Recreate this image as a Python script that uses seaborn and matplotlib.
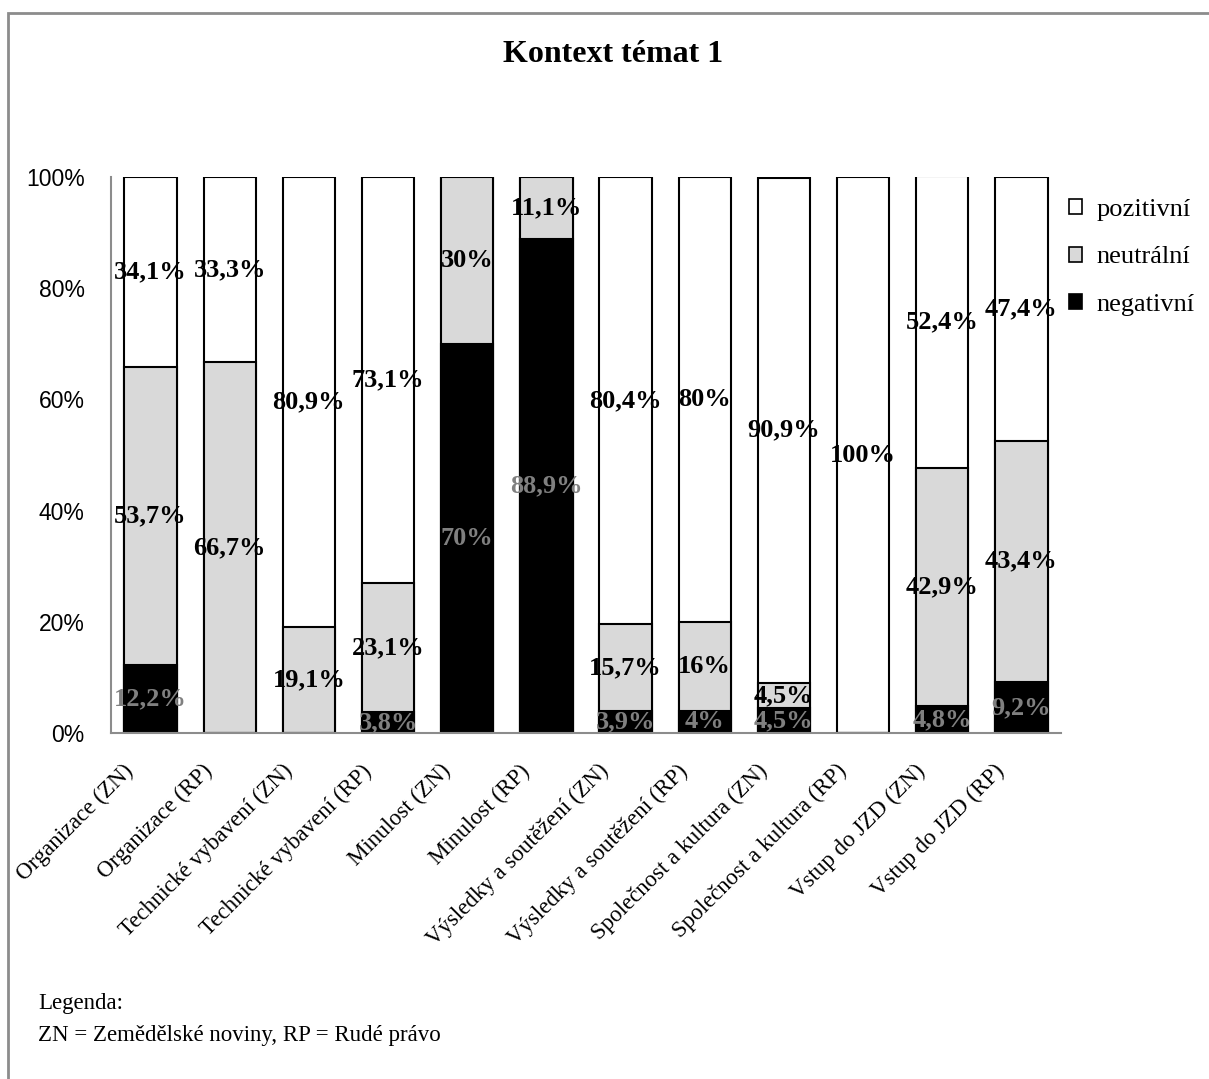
import matplotlib.pyplot as plt
import matplotlib.patches as mpatches
import matplotlib.transforms as mtransforms
import numpy as np
import pandas as pd
import seaborn as sns

# --- DATA ---
categories = ['Organizace (ZN)', 'Organizace (RP)', 'Technické vybavení (ZN)', 'Technické vybavení (RP)',
              'Minulost (ZN)', 'Minulost (RP)', 'Výsledky a soutěžení (ZN)', 'Výsledky a soutěžení (RP)',
              'Společnost a kultura (ZN)', 'Společnost a kultura (RP)', 'Vstup do JZD (ZN)', 'Vstup do JZD (RP)']
negativni = [12.2, 0, 0, 3.8, 70, 88.9, 3.9, 4, 4.5, 0, 4.8, 9.2]
neutralni = [53.7, 66.7, 19.1, 23.1, 30, 11.1, 15.7, 16, 4.5, 0, 42.9, 43.4]
pozitivni = [34.1, 33.3, 80.9, 73.1, 0, 0, 80.4, 80, 90.9, 100, 52.4, 47.4]
y_ticks = [0, 20, 40, 60, 80, 100]

# --- CONFIGURATION ---
sns.set_style("white")
plt.rcParams['font.family'] = ['Liberation Serif', 'DejaVu Serif']
plt.rcParams.update({'text.color': 'black', 'xtick.color': 'black', 'ytick.color': 'black',
                     'axes.labelcolor': 'black'})

GRAY = '#d9d9d9'
SPINE = '#8c8c8c'


def fmt(v):
    return f"{v:g}".replace('.', ',') + '%'


df = pd.DataFrame({'kategorie': categories, 'neg': negativni, 'neu': neutralni, 'poz': pozitivni})
df['cum_neu'] = df['neg'] + df['neu']
df['cum_poz'] = df['cum_neu'] + df['poz']

fig = plt.figure(figsize=(12.09, 10.79), dpi=100)
ax = fig.add_axes([111 / 1209, 1 - 733 / 1079, 950 / 1209, 556 / 1079])

# stacked bars: draw cumulative totals from top layer down
for col, color in [('cum_poz', 'white'), ('cum_neu', GRAY), ('neg', 'black')]:
    sns.barplot(data=df, x='kategorie', y=col, color=color, edgecolor='black', linewidth=1.5,
                width=0.66, saturation=1, errorbar=None, ax=ax)

# data labels at the middle of each segment
for i, row in df.iterrows():
    segs = [(row['neg'], 0, '#808080'), (row['neu'], row['neg'], 'black'), (row['poz'], row['cum_neu'], 'black')]
    for val, base, tcolor in segs:
        if val > 0:
            ax.text(i, base + val / 2, fmt(val), ha='center', va='center', fontsize=19,
                    fontweight='bold', color=tcolor)

ax.set_xlim(-0.5, len(categories) - 0.5)
ax.set_ylim(0, 100)
ax.set_yticks(y_ticks)
ax.set_yticklabels([f"{t}%" for t in y_ticks], fontfamily='Liberation Sans', fontsize=16.5)
ax.set_xticks(range(len(categories)))
ax.set_xticklabels([])
ax.set_xticks(np.arange(-0.5, len(categories)), minor=True)
ax.tick_params(axis='x', which='major', length=0)
ax.tick_params(axis='x', which='minor', length=6, width=1.5, color=SPINE)
ax.tick_params(axis='y', length=0, pad=19)
ax.set_xlabel('')
ax.set_ylabel('')

# rotated category labels, anchored slightly left of and below each bar
lab_tr = ax.get_xaxis_transform() + mtransforms.ScaledTranslation(-0.2, -0.35, fig.dpi_scale_trans)
for i, cat in enumerate(categories):
    ax.text(i, 0, cat, rotation=45, ha='right', va='center', rotation_mode='anchor',
            fontsize=16.5, transform=lab_tr, clip_on=False)

sns.despine(ax=ax)
for s in ['left', 'bottom']:
    ax.spines[s].set_color(SPINE)
    ax.spines[s].set_linewidth(1.5)

# legend
handles = [mpatches.Patch(facecolor=c, edgecolor='black', linewidth=1.2, label=l)
           for c, l in [('white', 'pozitivní'), (GRAY, 'neutrální'), ('black', 'negativní')]]
fig.legend(handles=handles, loc='upper left', bbox_to_anchor=(1058 / 1209, 1 - 188 / 1079),
           frameon=False, fontsize=19, handlelength=0.5, handleheight=0.5, handletextpad=0.55,
           labelspacing=0.98, borderaxespad=0)

fig.text(613 / 1209, 1 - 55 / 1079, 'Kontext témat 1', ha='center', va='center', fontsize=23,
         fontweight='bold')
fig.text(38 / 1209, 1 - 1003 / 1079, 'Legenda:', ha='left', va='center', fontsize=16.5)
fig.text(38 / 1209, 1 - 1035 / 1079, 'ZN = Zemědělské noviny, RP = Rudé právo', ha='left',
         va='center', fontsize=16.5)

# outer frame (only top and left visible in the crop)
fig.add_artist(mpatches.Rectangle((8 / 1209, -0.05), 1.2, 1 - 13 / 1079 + 0.05, fill=False,
                                  edgecolor=SPINE, linewidth=2, transform=fig.transFigure))

fig.savefig('out.png', dpi=100)
